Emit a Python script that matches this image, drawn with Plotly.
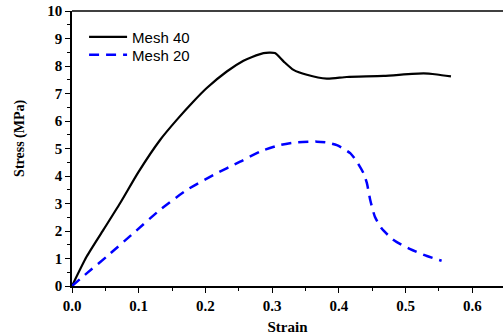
import plotly.graph_objects as go

strain_40 = [0, 0.022, 0.047, 0.072, 0.1, 0.132, 0.157, 0.182, 0.202, 0.232, 0.257, 0.27, 0.287, 0.304, 0.317, 0.332, 0.352, 0.382, 0.412, 0.467, 0.527, 0.547, 0.568]
stress_40 = [0, 1.07, 2.04, 3.01, 4.16, 5.31, 6.04, 6.71, 7.20, 7.80, 8.19, 8.33, 8.47, 8.47, 8.17, 7.86, 7.68, 7.54, 7.60, 7.64, 7.73, 7.69, 7.62]

strain_20 = [0, 0.022, 0.052, 0.092, 0.132, 0.172, 0.212, 0.252, 0.282, 0.312, 0.334, 0.367, 0.382, 0.397, 0.417, 0.427, 0.437, 0.442, 0.447, 0.454, 0.464, 0.482, 0.507, 0.532, 0.554]
stress_20 = [0, 0.46, 1.07, 1.92, 2.77, 3.49, 4.04, 4.52, 4.89, 5.13, 5.22, 5.25, 5.22, 5.12, 4.83, 4.52, 4.10, 3.74, 3.13, 2.52, 2.10, 1.67, 1.34, 1.09, 0.92]

x_ticks = [0.0, 0.1, 0.2, 0.3, 0.4, 0.5, 0.6]
x_ticklabels = ["0.0", "0.1", "0.2", "0.3", "0.4", "0.5", "0.6"]
y_ticks = list(range(0, 11))
y_ticklabels = [str(v) for v in y_ticks]

fig = go.Figure()
fig.add_trace(go.Scatter(x=strain_40, y=stress_40, mode="lines", name="Mesh 40", legend="legend",
                         line=dict(color="black", width=2.2, shape="spline", smoothing=0.6)))
fig.add_trace(go.Scatter(x=strain_20, y=stress_20, mode="lines", name="Mesh 20", legend="legend2",
                         line=dict(color="#0000ff", width=2.5, dash="10px,7px", shape="spline", smoothing=0.6)))

legfont = dict(family="Liberation Sans", size=15, color="black")
fig.update_layout(
    width=503, height=336,
    margin=dict(l=72, r=0, t=11, b=50),
    plot_bgcolor="white", paper_bgcolor="white",
    font=dict(family="Liberation Serif", size=15, color="black"),
    showlegend=True,
    legend=dict(x=0.028, y=0.905, xanchor="left", yanchor="middle", itemwidth=38,
                font=legfont, bgcolor="rgba(0,0,0,0)"),
    legend2=dict(x=0.028, y=0.84, xanchor="left", yanchor="middle", itemwidth=38,
                 font=legfont, bgcolor="rgba(0,0,0,0)"),
    shapes=[dict(type="line", xref="paper", yref="paper", x0=0, x1=1, y0=1, y1=1,
                 line=dict(color="black", width=1.5))],
    annotations=[dict(text="<b>Stress (MPa)</b>", xref="paper", yref="paper",
                      x=-0.121, xanchor="center", y=0.538, yanchor="middle", textangle=-90, showarrow=False,
                      font=dict(family="Liberation Serif", size=14, color="black"))],
)
fig.update_xaxes(range=[0, 0.646], tickmode="array", tickvals=x_ticks, ticktext=x_ticklabels,
                 ticks="outside", ticklen=5, tickwidth=1.2, tickcolor="black",
                 showline=True, linecolor="black", linewidth=1.5, mirror=False,
                 showgrid=False, zeroline=False,
                 tickfont=dict(family="Liberation Serif", size=15, color="black", weight="bold"),
                 minor=dict(ticks="outside", dtick=0.05, tick0=0, ticklen=3, tickcolor="black"),
                 title=dict(text="<b>Strain</b>", font=dict(family="Liberation Serif", size=15, color="black"), standoff=9))
fig.update_yaxes(range=[0, 10], tickmode="array", tickvals=y_ticks, ticktext=y_ticklabels,
                 ticks="outside", ticklen=5, tickwidth=1.2, tickcolor="black",
                 showline=True, linecolor="black", linewidth=1.5, mirror=False,
                 showgrid=False, zeroline=False,
                 tickfont=dict(family="Liberation Serif", size=15, color="black", weight="bold"),
                 minor=dict(ticks="outside", dtick=0.5, tick0=0, ticklen=3, tickcolor="black"))
fig.write_html("out.html", config={"displayModeBar": False},
               post_script="document.body.style.margin='0';document.body.style.padding='0';")
